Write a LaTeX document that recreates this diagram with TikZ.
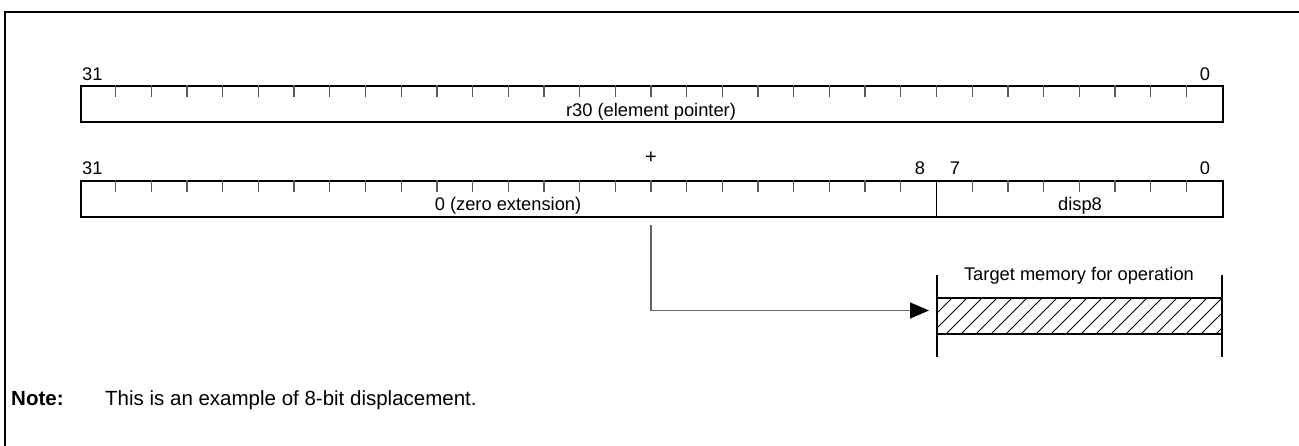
\documentclass[tikz,border=0pt]{standalone}
\usepackage{fontspec}
\setmainfont{Liberation Sans}
\usetikzlibrary{arrows.meta}
\begin{document}
\begin{tikzpicture}[x=1pt,y=-1pt,
  font=\fontsize{18.3}{22}\selectfont,
  regbox/.style={draw, line width=1.8pt, inner sep=0pt, minimum width=1142pt, minimum height=36pt, anchor=north west},
  tickln/.style={draw=black!65, line width=1.3pt},
  lbl/.style={anchor=base, inner sep=0pt},
  notefont/.style={font=\fontsize{20.5}{24}\selectfont},
  frameln/.style={line width=2pt},
  hatchln/.style={line width=0.9pt},
  arrowln/.style={draw=black!60, line width=1.3pt, -{Triangle[length=19pt,width=16pt,fill=black,color=black]}},
  bar/.style={line width=1.8pt}]
\useasboundingbox (0,0) rectangle (1299,446);
% frame
\draw[frameln] (5,446) -- (5,12) -- (1299,12);
% register r30
\node[regbox] (r1) at (80,85) {};
\foreach \i in {1,...,31} \draw[tickln] (80+\i*35.6875,85) -- ++(0,12);
\node[lbl, anchor=base west] (r1hi) at (82,81) {31};
\node[lbl] (r1lo) at (1205,81) {0};
\node[lbl] (r1txt) at (651,117) {r30 (element pointer)};
% plus
\node[lbl, font=\fontsize{20}{24}\selectfont] (plus) at (651,164) {+};
% register disp8
\node[regbox] (r2) at (80,180) {};
\foreach \i in {1,...,23,25,26,...,31} \draw[tickln] (80+\i*35.6875,180) -- ++(0,12);
\draw[line width=1.3pt] (936.5,180) -- (936.5,216);
\node[lbl, anchor=base west] (r2hi) at (82,175) {31};
\node[lbl] (r2b8) at (920,175) {8};
\node[lbl] (r2b7) at (955,175) {7};
\node[lbl] (r2lo) at (1205,175) {0};
\node[lbl] (r2txt) at (508,211) {0 (zero extension)};
\node[lbl] (r2disp) at (1080,211) {disp8};
% target memory
\node[lbl] (tlabel) at (1079,281) {Target memory for operation};
\begin{scope}
  \clip (937,298) rectangle (1222,334);
  \foreach \k in {0,...,21} \draw[hatchln] (937-36+\k*15,334) -- ++(36,-36);
\end{scope}
\node[draw=none, inner sep=0pt, minimum width=285pt, minimum height=36pt, anchor=north west] (target) at (937,298) {};
\draw[bar] (target.north west) -- (target.north east);
\draw[bar] (target.south west) -- (target.south east);
\draw[bar] (937,275) -- (937,357);
\draw[bar] (1222,275) -- (1222,357);
% arrow
\coordinate (src) at (651,225);
\coordinate (tgt) at (929,310.5);
\draw[arrowln] (src) |- (tgt);
% note
\node[lbl, notefont, anchor=base west] (note) at (11,405) {\textbf{Note:}};
\node[lbl, notefont, anchor=base west] (notetxt) at (105,405) {This is an example of 8-bit displacement.};
\end{tikzpicture}
\end{document}
